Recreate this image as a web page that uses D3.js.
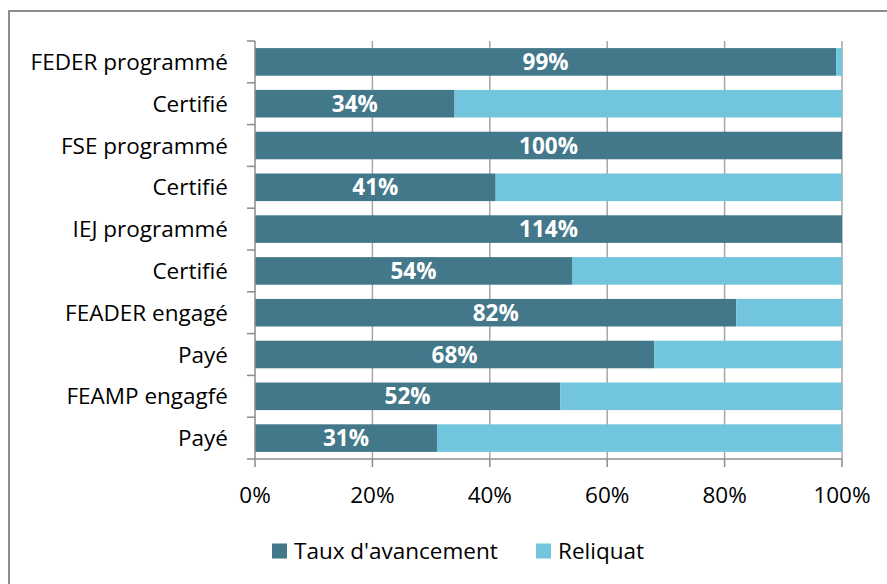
<!DOCTYPE html>
<html>
<head>
<meta charset="utf-8">
<script src="https://cdn.jsdelivr.net/npm/d3@7"></script>
<style>
  body { margin: 0; background: #fff; }
  svg text { font-family: "Open Sans", sans-serif; }
</style>
</head>
<body>
<div id="chart"></div>
<script>
// data
const categories = ['FEDER programmé', 'Certifié', 'FSE programmé', 'Certifié', 'IEJ programmé',
                    'Certifié', 'FEADER engagé', 'Payé', 'FEAMP engagfé', 'Payé'];
const taux = [99, 34, 100, 41, 114, 54, 82, 68, 52, 31];
const ticks = [0, 20, 40, 60, 80, 100];
const seriesNames = ["Taux d'avancement", 'Reliquat'];
const colors = ['#43788A', '#71C5DC'];

const width = 887, height = 584;
const margin = {top: 41, right: 45, bottom: 125, left: 255};
const fontSize = '22.5px';

const svg = d3.select('#chart')
    .append('svg')
    .attr('width', width)
    .attr('height', height);

// outer frame (clipped on right and bottom like the reference)
svg.append('rect')
    .attr('x', 9).attr('y', 11)
    .attr('width', 900).attr('height', 600)
    .attr('fill', 'none')
    .attr('stroke', '#8c8c8c')
    .attr('stroke-width', 2);

const x = d3.scaleLinear()
    .domain([0, 100])
    .range([margin.left, width - margin.right]);

const y = d3.scaleBand()
    .domain(d3.range(categories.length))
    .range([margin.top, height - margin.bottom])
    .paddingInner(0.34)
    .paddingOuter(0.17);

const step = y.step();

// gridlines
svg.append('g')
    .selectAll('line')
    .data(ticks.slice(1))
    .join('line')
    .attr('x1', d => x(d)).attr('x2', d => x(d))
    .attr('y1', margin.top).attr('y2', height - margin.bottom)
    .attr('stroke', '#a6a6a6')
    .attr('stroke-width', 1.5);

// stacked bars
const rows = taux.map((v, i) => ({i, done: Math.min(v, 100), rest: Math.max(0, 100 - v), label: v + '%'}));

svg.append('g')
    .selectAll('rect')
    .data(rows)
    .join('rect')
    .attr('x', x(0))
    .attr('y', d => y(d.i))
    .attr('width', d => x(d.done) - x(0))
    .attr('height', y.bandwidth())
    .attr('fill', colors[0]);

svg.append('g')
    .selectAll('rect')
    .data(rows.filter(d => d.rest > 0))
    .join('rect')
    .attr('x', d => x(d.done))
    .attr('y', d => y(d.i))
    .attr('width', d => x(d.done + d.rest) - x(d.done))
    .attr('height', y.bandwidth())
    .attr('fill', colors[1]);

// value labels
svg.append('g')
    .selectAll('text')
    .data(rows)
    .join('text')
    .attr('x', d => (x(0) + x(d.done)) / 2)
    .attr('y', d => y(d.i) + y.bandwidth() / 2)
    .attr('dy', '0.36em')
    .attr('text-anchor', 'middle')
    .attr('fill', '#fff')
    .style('font-weight', 'bold')
    .style('font-size', fontSize)
    .text(d => d.label);

// left axis with ticks between bands
const axisG = svg.append('g').attr('stroke', '#8c8c8c').attr('stroke-width', 1.5);
axisG.append('line')
    .attr('x1', x(0)).attr('x2', x(0))
    .attr('y1', margin.top).attr('y2', height - margin.bottom);
axisG.selectAll('.yt')
    .data(d3.range(categories.length + 1))
    .join('line')
    .attr('x1', x(0) - 8).attr('x2', x(0))
    .attr('y1', d => margin.top + d * step)
    .attr('y2', d => margin.top + d * step);

// bottom axis
axisG.append('line')
    .attr('x1', x(0)).attr('x2', x(100))
    .attr('y1', height - margin.bottom).attr('y2', height - margin.bottom);
axisG.selectAll('.xt')
    .data(ticks)
    .join('line')
    .attr('x1', d => x(d)).attr('x2', d => x(d))
    .attr('y1', height - margin.bottom).attr('y2', height - margin.bottom + 8);

// category labels
svg.append('g')
    .selectAll('text')
    .data(categories)
    .join('text')
    .attr('x', x(0) - 27)
    .attr('y', (d, i) => y(i) + y.bandwidth() / 2)
    .attr('dy', '0.36em')
    .attr('text-anchor', 'end')
    .attr('fill', '#000')
    .style('font-size', fontSize)
    .text(d => d);

// tick labels
svg.append('g')
    .selectAll('text')
    .data(ticks)
    .join('text')
    .attr('x', d => x(d))
    .attr('y', 495)
    .attr('dy', '0.36em')
    .attr('text-anchor', 'middle')
    .attr('fill', '#000')
    .style('font-size', fontSize)
    .text(d => d + '%');

// legend
const legendX = [272, 536];
const legend = svg.append('g')
    .selectAll('g')
    .data(seriesNames)
    .join('g')
    .attr('transform', (d, i) => `translate(${legendX[i]}, 551)`);
legend.append('rect')
    .attr('x', 0).attr('y', -7.5)
    .attr('width', 15).attr('height', 15)
    .attr('fill', (d, i) => colors[i]);
legend.append('text')
    .attr('x', 22)
    .attr('dy', '0.36em')
    .attr('fill', '#000')
    .style('font-size', fontSize)
    .text(d => d);
</script>
</body>
</html>
